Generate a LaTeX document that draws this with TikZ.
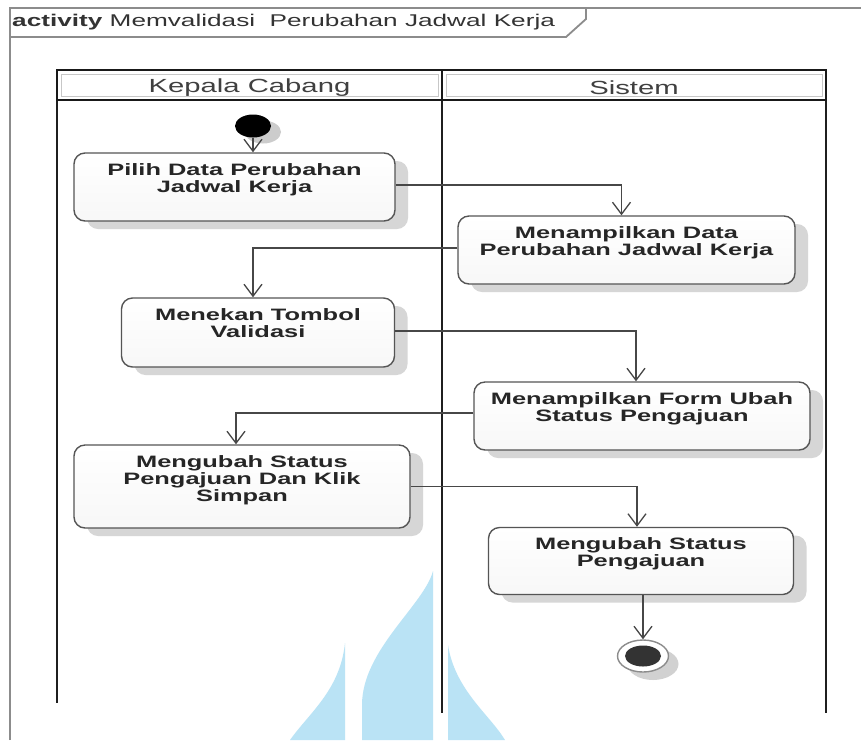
\documentclass[tikz,border=0pt]{standalone}
\usepackage{fontspec}
% wide sans face used for every label of the activity diagram
\newfontfamily\umlfont[FakeStretch=1.54]{Liberation Sans}
\usetikzlibrary{arrows.meta,shapes.geometric,shadows}

\definecolor{flowgray}{HTML}{474747}
\definecolor{boxgray}{HTML}{555555}
\definecolor{framegray}{HTML}{8C8C8C}
\definecolor{markblue}{RGB}{186,227,245}

% top-aligned text block inside an action box: height, width, text
\newcommand\actbox[3]{\parbox[c][#1pt][t]{#2pt}{\centering\rule{0pt}{22pt}#3}}

\tikzset{
  act/.style={draw=boxgray, line width=1.4pt, rounded corners=11pt,
    top color=white, bottom color=black!3, inner sep=0pt,
    drop shadow={shadow xshift=13pt, shadow yshift=-8pt, fill=black!16, opacity=1},
    font=\umlfont\bfseries\fontsize{16.5}{17}\selectfont, text=black!85},
  flow/.style={draw=flowgray, line width=1.3pt,
    -{Straight Barb[length=12pt,width=18pt,line width=1.3pt]}},
  lanehead/.style={draw=black!90, line width=2.4pt, inner sep=0pt,
    font=\umlfont\fontsize{19}{21}\selectfont, text=black!75},
  laneline/.style={draw=black!88, line width=2.6pt},
  frameline/.style={draw=framegray, line width=1.8pt},
}

\begin{document}
\begin{tikzpicture}[x=1pt,y=-1pt]
\useasboundingbox (0,0) rectangle (861,740);
\fill[white] (0,0) rectangle (861,740);

% light blue logo shapes at the foot of the sheet
\fill[markblue] (433,571) .. controls (424,605) and (362,650) .. (362,705)
  -- (362,740) -- (433,740) -- cycle;
\fill[markblue] (345,643) .. controls (340,690) and (310,712) .. (290,740)
  -- (345,740) -- cycle;
\fill[markblue] (448,645) .. controls (455,690) and (490,715) .. (505,740)
  -- (448,740) -- cycle;

% diagram frame and its name tab
\draw[frameline] (10,740) -- (10,8) -- (861,8);
\draw[frameline] (10,37) -- (566,37) -- (586,19) -- (586,8);
\node[anchor=west, inner sep=0pt, font=\umlfont\fontsize{17}{19}\selectfont, text=black!80]
  (title) at (12,22) {\textbf{activity} Memvalidasi\ \ Perubahan Jadwal Kerja};

% swimlanes
\draw[laneline] (57,70) -- (57,703);
\draw[laneline] (442,70) -- (442,713);
\draw[laneline] (826,70) -- (826,713);
\node[lanehead, minimum width=385, minimum height=30] (laneA) at (249.5,85) {};
\node[lanehead, minimum width=384, minimum height=30] (laneB) at (634,85) {};
\draw[black!22, line width=0.8pt] (61,74) rectangle (438,96);
\draw[black!22, line width=0.8pt] (446,74) rectangle (822,96);
\node[font=\umlfont\fontsize{19}{21}\selectfont, text=black!75, inner sep=0pt]
  (laneAname) at (249.5,87.5) {Kepala Cabang};
\node[font=\umlfont\fontsize{19}{21}\selectfont, text=black!75, inner sep=0pt]
  (laneBname) at (634,87.5) {Sistem};

% initial node
\node[ellipse, fill=black, minimum width=36, minimum height=23, inner sep=0pt,
  drop shadow={shadow xshift=10pt, shadow yshift=-6pt, fill=black!20, opacity=1}]
  (start) at (253,126) {};

% actions
\node[act] (a1) at (234.5,187) {\actbox{68}{321}{Pilih Data Perubahan\\Jadwal Kerja}};
\node[act] (a2) at (626.5,250) {\actbox{68}{337}{Menampilkan Data\\Perubahan Jadwal Kerja}};
\node[act] (a3) at (258,332.5) {\actbox{69}{273}{Menekan Tombol\\Validasi}};
\node[act] (a4) at (642,416) {\actbox{68}{336}{Menampilkan Form Ubah\\Status Pengajuan}};
\node[act] (a5) at (242,486.5) {\actbox{83}{336}{Mengubah Status\\Pengajuan Dan Klik\\Simpan}};
\node[act] (a6) at (641,561) {\actbox{67}{305}{Mengubah Status\\Pengajuan}};

% final node
\node[ellipse, draw=black!45, line width=1.4pt, fill=white, minimum width=51, minimum height=32,
  inner sep=0pt,
  drop shadow={shadow xshift=10pt, shadow yshift=-8pt, fill=black!18, opacity=1}]
  (final) at (643,656) {};
\node[ellipse, fill=black!80, minimum width=36, minimum height=21, inner sep=0pt]
  (finalcore) at (final.center) {};

% control flows
\draw[flow] (start.south) -- (start.south |- a1.north);
\draw[flow] ([yshift=2pt]a1.east) -| ([xshift=-5pt]a2.north);
\draw[flow] ([yshift=2pt]a2.west) -| ([xshift=-5pt]a3.north);
\draw[flow] ([yshift=1.5pt]a3.east) -| ([xshift=-6pt]a4.north);
\draw[flow] ([yshift=3pt]a4.west) -| ([xshift=-6pt]a5.north);
\draw[flow] (a5.east) -| ([xshift=-4pt]a6.north);
\draw[flow] (final.north |- a6.south) -- (final.north);
\end{tikzpicture}
\end{document}
